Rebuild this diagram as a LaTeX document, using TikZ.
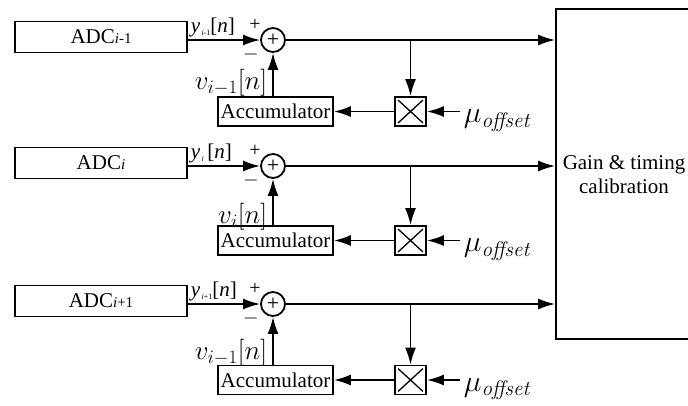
\RequirePackage{fix-cm}
\documentclass[tikz,border=0pt]{standalone}
\usepackage[no-math]{fontspec}
\setmainfont{Liberation Serif}
\usetikzlibrary{arrows.meta,positioning,calc}
\begin{document}
\begin{tikzpicture}[x=1pt,y=-1pt,line width=1.8pt,
  arr/.style={-{Latex[length=17pt,width=11pt]}},
  txt/.style={font=\fontsize{21}{24}\selectfont},
  adcbox/.style={draw,rectangle,inner sep=0pt,minimum width=172pt,minimum height=31pt,txt},
  accbox/.style={draw,rectangle,inner sep=0pt,minimum width=115pt,minimum height=29pt,txt},
  mulbox/.style={draw,rectangle,inner sep=0pt,minimum width=31pt,minimum height=29pt},
  sumnode/.style={draw,circle,inner sep=0pt,minimum size=24pt,font=\fontsize{22}{22}\selectfont},
  sign/.style={inner sep=0pt,font=\fontsize{20}{20}\selectfont},
  ylab/.style={inner sep=0pt,anchor=base west,txt},
  vlab/.style={inner sep=0pt,anchor=base east,font=\fontsize{27}{29}\selectfont},
  mulab/.style={inner sep=0pt,anchor=base west,font=\fontsize{30}{32}\selectfont},
]
\useasboundingbox (0,0) rectangle (688,405);
\clip (0,0) rectangle (688,405);

% big calibration box (right side open beyond the frame)
\node[draw,rectangle,inner sep=0pt,minimum width=150pt,minimum height=330pt] (big) at (631,174) {};
\node[txt,align=center,inner sep=0pt] (gtc) at (624,175) {Gain \& timing\\calibration};

\foreach \r/\s/\ay/\adctext/\ylabel/\vlabel/\vb in {
  1/40/111.5/{ADC{\fontsize{15}{16}\selectfont\textit{i}-1}}/{\textit{y}\raisebox{-3pt}{\fontsize{8}{8}\selectfont\,\textit{i}-1}[\textit{n}]}/{$v_{i-1}[n]$}/89,
  2/166/240.5/{ADC{\fontsize{15}{16}\selectfont\textit{i}}}/{\textit{y}\raisebox{-3pt}{\fontsize{8}{8}\selectfont\,\textit{i}}\,[\textit{n}]}/{$v_{i}[n]$}/223,
  3/304/380/{ADC{\fontsize{15}{16}\selectfont\textit{i}+1}}/{\textit{y}\raisebox{-3pt}{\fontsize{8}{8}\selectfont\,\textit{i}+1}[\textit{n}]}/{$v_{i-1}[n]$}/359}
{
  \node[adcbox] (adc\r) at (101,\s-3) {\adctext};
  \node[sumnode] (sum\r) at (273,\s) {+};
  \node[accbox] (acc\r) at (275.5,\ay) {Accumulator};
  \node[mulbox] (mul\r) at (410.5,\ay) {};
  \draw[line width=1.3pt] ($(mul\r.north west)+(4,4)$) -- ($(mul\r.south east)+(-4,-4)$)
        ($(mul\r.north east)+(-4,4)$) -- ($(mul\r.south west)+(4,-4)$);
  \coordinate (mu\r) at (460,\ay);
  \node[mulab] (mulabel\r) at (463,\ay+11) {$\mu_{\mathit{offset}}$};
  \node[ylab] (ylab\r) at (190,\s-8) {\ylabel};
  \node[vlab] (vlab\r) at (268,\vb) {\vlabel};
  \node[sign] (plus\r) at (255,\s-15) {+};
  \node[sign] (minus\r) at (251,\s+14) {$-$};
  \draw[arr] (adc\r.east |- sum\r) -- (sum\r.west);
  \draw[arr] (sum\r.east) -- (big.west |- sum\r);
  \draw[arr] (mul\r.north |- sum\r) -- (mul\r.north);
  \draw[arr] (mu\r) -- (mul\r.east);
  \draw[arr] (mul\r.west) -- (acc\r.east);
  \draw[arr] (acc\r.north -| sum\r) -- (sum\r.south);
}
\end{tikzpicture}
\end{document}
